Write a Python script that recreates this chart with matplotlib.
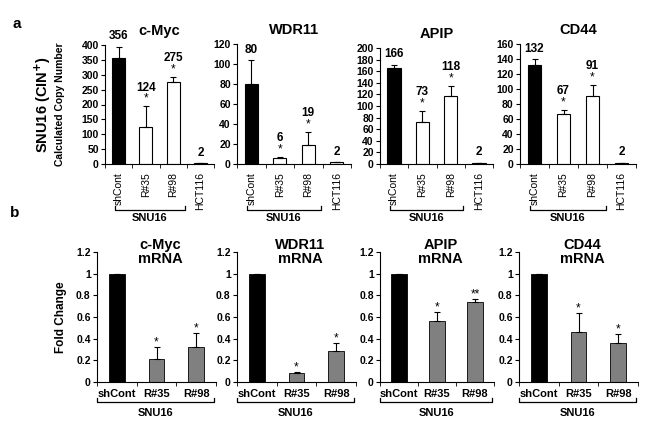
import matplotlib
matplotlib.use('Agg')
import matplotlib.pyplot as plt
from matplotlib.transforms import blended_transform_factory

plt.rcParams['font.family'] = ['Liberation Sans', 'DejaVu Sans']

# ---- data: copy number (panel a) ----
genes = ['c-Myc', 'WDR11', 'APIP', 'CD44']
cn_cats = ['shCont', 'R#35', 'R#98', 'HCT116']
cn_vals = {
    'c-Myc': [356, 124, 275, 2],
    'WDR11': [80, 6, 19, 2],
    'APIP': [166, 73, 118, 2],
    'CD44': [132, 67, 91, 2],
}
cn_err = {
    'c-Myc': [38, 70, 19, 0],
    'WDR11': [24, 1, 13, 0],
    'APIP': [5, 18, 17, 0],
    'CD44': [8, 5, 15, 0],
}
cn_stars = {
    'c-Myc': ['', '*', '*', ''],
    'WDR11': ['', '*', '*', ''],
    'APIP': ['', '*', '*', ''],
    'CD44': ['', '*', '*', ''],
}
cn_ymax = {'c-Myc': 400, 'WDR11': 120, 'APIP': 200, 'CD44': 160}
cn_ystep = {'c-Myc': 50, 'WDR11': 20, 'APIP': 20, 'CD44': 20}

# ---- data: mRNA fold change (panel b) ----
mr_cats = ['shCont', 'R#35', 'R#98']
mr_vals = {
    'c-Myc': [1, 0.21, 0.32],
    'WDR11': [1, 0.08, 0.29],
    'APIP': [1, 0.56, 0.74],
    'CD44': [1, 0.46, 0.36],
}
mr_err = {
    'c-Myc': [0, 0.11, 0.13],
    'WDR11': [0, 0.01, 0.07],
    'APIP': [0, 0.09, 0.03],
    'CD44': [0, 0.18, 0.08],
}
mr_stars = {
    'c-Myc': ['', '*', '*'],
    'WDR11': ['', '*', '*'],
    'APIP': ['', '*', '**'],
    'CD44': ['', '*', '*'],
}

W, H = 648, 422
fig = plt.figure(figsize=(W / 100, H / 100), dpi=100)


def px_axes(x0, x1, ytop, ybot):
    return fig.add_axes([x0 / W, 1 - ybot / H, (x1 - x0) / W, (ybot - ytop) / H])


def style_axes(ax, ncat):
    for s in ['top', 'right']:
        ax.spines[s].set_visible(False)
    ax.set_xlim(-0.5, ncat - 0.5)
    ax.set_xticks(range(ncat))
    ax.set_xticks([i - 0.5 for i in range(ncat + 1)], minor=True)
    ax.tick_params(axis='x', which='major', length=0)
    ax.tick_params(axis='x', which='minor', length=3, direction='out')
    ax.tick_params(axis='y', length=3, direction='out', labelsize=7.5, pad=1.5)
    for lab in ax.get_yticklabels():
        lab.set_fontweight('bold')


def bracket(ax, x0, x1, y, text, ty):
    tr = blended_transform_factory(ax.transData, fig.transFigure)
    yf = 1 - y / H
    up = 4 / H
    ax.plot([x0, x0, x1, x1], [yf + up, yf, yf, yf + up], color='black',
            lw=0.9, transform=tr, clip_on=False)
    ax.text((x0 + x1) / 2, 1 - ty / H, text, transform=tr, ha='center',
            va='center', fontsize=8, fontweight='bold')


# ---- panel a ----
top_pos = [(105, 214, 45), (237, 351, 44), (380, 493, 48), (520, 636, 44)]
for g, (x0, x1, yt) in zip(genes, top_pos):
    ax = px_axes(x0, x1, yt, 164)
    vals = cn_vals[g]
    errs = cn_err[g]
    colors = ['black', 'white', 'white', 'white']
    ax.bar(range(4), vals, width=0.47, color=colors, edgecolor='black', lw=0.8,
           yerr=[[0] * 4, errs], error_kw=dict(ecolor='black', elinewidth=0.8,
                                               capsize=2.5, capthick=0.8))
    ax.set_ylim(0, cn_ymax[g])
    ax.set_yticks(range(0, cn_ymax[g] + 1, cn_ystep[g]))
    style_axes(ax, 4)
    ax.set_xticklabels(cn_cats, rotation=90, fontsize=7.5, va='top')
    ax.tick_params(axis='x', which='major', pad=6)
    ax.set_title(g, fontsize=10.5, fontweight='bold', pad=7)
    for i, (v, e, s) in enumerate(zip(vals, errs, cn_stars[g])):
        top = v + e
        if s:
            ax.annotate(s, (i, top), xytext=(0, 1), textcoords='offset points',
                        ha='center', va='bottom', fontsize=8.5, annotation_clip=False)
            ax.annotate(str(v), (i, top), xytext=(0, 13.5), textcoords='offset points',
                        ha='center', va='center', fontsize=8.5, fontweight='bold',
                        annotation_clip=False)
        else:
            ax.annotate(str(v), (i, top), xytext=(0, 7.5), textcoords='offset points',
                        ha='center', va='center', fontsize=8.5, fontweight='bold',
                        annotation_clip=False)
    bracket(ax, -0.15, 2.45, 210, 'SNU16', 218)
    if g == 'c-Myc':
        ax.text(-0.57, 0.5, 'SNU16 (CIN$^{\\mathbf{+}}$)', transform=ax.transAxes,
                rotation=90, ha='center', va='center', fontsize=10.5, fontweight='bold')
        ax.text(-0.41, 0.5, 'Calculated Copy Number', transform=ax.transAxes,
                rotation=90, ha='center', va='center', fontsize=7.5, fontweight='bold')

# ---- panel b ----
bot_pos = [(97, 216), (237, 356), (380, 494), (519, 638)]
for g, (x0, x1) in zip(genes, bot_pos):
    ax = px_axes(x0, x1, 252, 382)
    vals = mr_vals[g]
    errs = mr_err[g]
    colors = ['black', '#808080', '#808080']
    ax.bar(range(3), vals, width=0.4, color=colors, edgecolor='black', lw=0.6,
           yerr=[[0] * 3, errs], error_kw=dict(ecolor='black', elinewidth=0.8,
                                               capsize=2.5, capthick=0.8))
    ax.set_ylim(0, 1.2)
    ax.set_yticks([0, 0.2, 0.4, 0.6, 0.8, 1, 1.2])
    ax.set_yticklabels(['0', '0.2', '0.4', '0.6', '0.8', '1', '1.2'])
    style_axes(ax, 3)
    ax.set_xticklabels(mr_cats, fontsize=8, fontweight='bold')
    ax.tick_params(axis='x', which='major', pad=5)
    ax.text(0.53, 1.0, g + '\nmRNA', transform=ax.transAxes, ha='center',
            va='center', fontsize=10.5, fontweight='bold', linespacing=1.05)
    for i, (v, e, s) in enumerate(zip(vals, errs, mr_stars[g])):
        if s:
            ax.annotate(s, (i, v + e), xytext=(0, -1), textcoords='offset points',
                        ha='center', va='bottom', fontsize=8.5, annotation_clip=False)
    bracket(ax, -0.5, 2.45, 402, 'SNU16', 413)
    if g == 'c-Myc':
        ax.text(-0.3, 0.5, 'Fold Change', transform=ax.transAxes, rotation=90,
                ha='center', va='center', fontsize=8.5, fontweight='bold')

fig.text(17 / W, 1 - 24 / H, 'a', fontsize=11, fontweight='bold', ha='center', va='center')
fig.text(15 / W, 1 - 213 / H, 'b', fontsize=11, fontweight='bold', ha='center', va='center')

fig.savefig('out.png', dpi=100)
